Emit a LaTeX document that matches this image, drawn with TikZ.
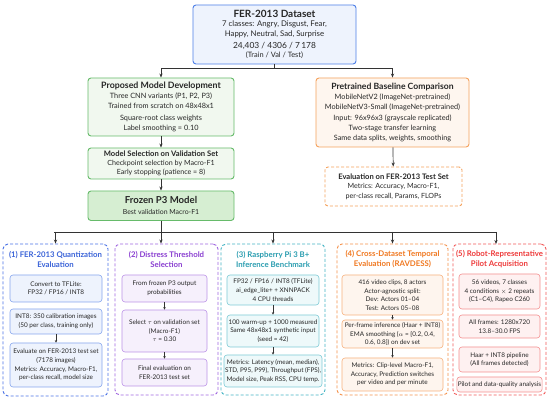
\documentclass[tikz,border=0pt]{standalone}
\usepackage{fontspec}
\setmainfont{Lato}
\usetikzlibrary{arrows.meta}
\definecolor{dsB}{HTML}{4D7FE8}\definecolor{dsF}{HTML}{EEF3FD}
\definecolor{grB}{HTML}{66BB6A}\definecolor{grF}{HTML}{F1F8EF}\definecolor{grD}{HTML}{D6EED2}
\definecolor{orB}{HTML}{F5A25D}\definecolor{orF}{HTML}{FEF6EF}
\definecolor{bluP}{HTML}{4A72E6}\definecolor{bluT}{HTML}{3A63D8}\definecolor{bluI}{HTML}{86A6EE}\definecolor{bluF}{HTML}{EEF3FD}
\definecolor{purP}{HTML}{A066E0}\definecolor{purT}{HTML}{8A3FD1}\definecolor{purI}{HTML}{BC93E8}\definecolor{purF}{HTML}{F6F0FC}
\definecolor{teaP}{HTML}{45B5C5}\definecolor{teaT}{HTML}{2A9DB0}\definecolor{teaI}{HTML}{7ECBD6}\definecolor{teaF}{HTML}{EEF9FA}
\definecolor{oraP}{HTML}{F5914A}\definecolor{oraT}{HTML}{F07820}\definecolor{oraI}{HTML}{F7B27E}\definecolor{oraF}{HTML}{FEF5EE}
\definecolor{redP}{HTML}{F25A5A}\definecolor{redT}{HTML}{EE3B3B}\definecolor{redI}{HTML}{F49090}\definecolor{redF}{HTML}{FEF1F1}
\definecolor{lnc}{HTML}{333333}
\newcommand{\fs}[2]{\fontsize{#1}{#2}\selectfont}
\tikzset{
  x=1pt,y=-1pt,
  bx/.style={rounded corners=3pt, line width=0.9pt, align=center, inner sep=1pt, anchor=center, text=black!85},
  pan/.style={rounded corners=5pt, dashed, dash pattern=on 3pt off 2pt, line width=0.9pt, anchor=center},
  inb/.style={rounded corners=3pt, line width=0.6pt, align=center, inner sep=1pt, anchor=center, font=\fs{6.4}{8.6}, text=black!85},
  ptitle/.style={align=center, font=\bfseries\fs{7.8}{10}, anchor=center},
  arr/.style={-{Stealth[length=4pt,width=3.2pt]}, line width=0.7pt, draw=lnc},
  sarr/.style={-{Stealth[length=2.6pt,width=2.4pt]}, line width=0.5pt, draw=lnc},
  lnk/.style={line width=0.7pt, draw=lnc},
}
\begin{document}
\begin{tikzpicture}
\useasboundingbox (0,0) rectangle (550,403);
\fill[white] (0,0) rectangle (550,403);
% top
\node[bx, draw=dsB, fill=dsF, minimum width=163pt, minimum height=59pt, font=\fs{7.8}{9.4}] (ds) at (274.5,34.5)
 {\textbf{\fs{10}{10}FER-2013 Dataset}\\
  7 classes: Angry, Disgust, Fear,\\ Happy, Neutral, Sad, Surprise\\[2.5pt]
  \fs{8.4}{8.4}24,403 / 4306 / 7\,178\\ \fs{7.4}{8.2}(Train / Val / Test)};
\node[bx, draw=grB, fill=grF, minimum width=146pt, minimum height=58pt, font=\fs{7.3}{10}] (pmd) at (161,107)
 {\textbf{\fs{8.8}{10}Proposed Model Development}\\
  Three CNN variants (P1, P2, P3)\\ Trained from scratch on 48x48x1\\[1.5pt]
   Square-root class weights\\ Label smoothing = 0.10};
\node[bx, draw=grB, fill=grF, minimum width=146pt, minimum height=31pt, font=\fs{7.1}{9}] (msel) at (161,163.5)
 {\textbf{\fs{7.6}{9}Model Selection on Validation Set}\\
  Checkpoint selection by Macro-F1\\ Early stopping (patience = 8)};
\node[bx, draw=grB, fill=grD, minimum width=146pt, minimum height=29.5pt, font=\fs{6.9}{11}] (frz) at (161,205.75)
 {\textbf{\fs{9.6}{11}Frozen P3 Model}\\
  Best validation Macro-F1};
\node[bx, draw=orB, fill=orF, minimum width=153pt, minimum height=69pt, font=\fs{7.3}{10.3}] (pbc) at (392.5,112.5)
 {\textbf{\fs{8.6}{10}Pretrained Baseline Comparison}\\
  MobileNetV2 (ImageNet-pretrained)\\ MobileNetV3-Small (ImageNet-pretrained)\\
   Input: 96x96x3 (grayscale replicated)\\ Two-stage transfer learning\\ Same data splits, weights, smoothing};
\node[bx, draw=orB, fill=white, dashed, dash pattern=on 3pt off 2pt, minimum width=137pt, minimum height=39pt, font=\fs{7.1}{9.4}] (evb) at (393.5,186.5)
 {\textbf{\fs{7.6}{9.4}Evaluation on FER-2013 Test Set}\\
  Metrics: Accuracy, Macro-F1,\\ per-class recall, Params, FLOPs};
% top connectors
\coordinate (j1) at (274.5,68);
\draw[lnk] (ds.south) -- (j1);
\draw[arr] (j1) -| (pmd.north);
\draw[arr] (j1) -| (pbc.north);
\draw[arr] (pmd) -- (msel);
\draw[arr] (msel) -- (frz);
\draw[arr] (pbc) -- (evb);
% panels
\node[pan, draw=bluP, minimum width=105pt, minimum height=152pt] (p1) at (55.5,320) {};
\node[pan, draw=purP, minimum width=103pt, minimum height=151pt] (p2) at (166.5,319.5) {};
\node[pan, draw=teaP, minimum width=104pt, minimum height=151pt] (p3) at (273,319.5) {};
\node[pan, draw=oraP, minimum width=111pt, minimum height=151pt] (p4) at (392.5,319.5) {};
\node[pan, draw=redP, minimum width=93pt, minimum height=151pt] (p5) at (499.5,319.5) {};
\node[ptitle, text=bluT] (t1) at (55.5,259) {(1) FER-2013 Quantization\\Evaluation};
\node[ptitle, text=purT] (t2) at (166.5,259) {(2) Distress Threshold\\Selection};
\node[ptitle, text=teaT] (t3) at (273,259) {(3) Raspberry Pi 3 B+\\Inference Benchmark};
\node[ptitle, text=oraT] (t4) at (392.5,259) {(4) Cross-Dataset Temporal\\Evaluation (RAVDESS)};
\node[ptitle, text=redT] (t5) at (499.5,259) {(5) Robot-Representative\\Pilot Acquisition};
% bottom bus
\coordinate (j2) at (161,232);
\coordinate (bl) at (54,232);
\coordinate (br) at (496,232);
\coordinate (e5) at (496,244);
\draw[lnk] (frz.south) -- (j2);
\draw[lnk] (bl) -- (br);
\draw[arr] (p1.north |- j2) -- (p1.north);
\draw[arr] (j2) -- (frz.south |- p2.north);
\draw[arr] (p3.north |- j2) -- (p3.north);
\draw[arr] (p4.north |- j2) -- (p4.north);
\draw[arr] (br) -- (e5);
% panel 1
\node[inb, draw=bluI, fill=bluF, minimum width=92pt, minimum height=27pt] (a1) at (56,288.5) {Convert to TFLite:\\FP32 / FP16 / INT8};
\node[inb, draw=bluI, fill=bluF, minimum width=92pt, minimum height=25pt] (a2) at (56,321.5) {INT8: 350 calibration images\\(50 per class, training only)};
\node[inb, draw=bluI, fill=bluF, minimum width=92pt, minimum height=44pt] (a3) at (56,365) {Evaluate on FER-2013 test set\\(7178 images)\\Metrics: Accuracy, Macro-F1,\\per-class recall, model size};
\draw[sarr] (a2) -- (a3);
% panel 2
\node[inb, draw=purI, fill=purF, minimum width=85pt, minimum height=27pt] (b1) at (164.5,288.5) {From frozen P3 output\\probabilities};
\node[inb, draw=purI, fill=purF, minimum width=85pt, minimum height=42pt] (b2) at (164.5,331) {Select $\tau$ on validation set\\(Macro-F1)\\$\tau$ = 0.30};
\node[inb, draw=purI, fill=purF, minimum width=85pt, minimum height=27pt] (b3) at (164.5,372.5) {Final evaluation on\\FER-2013 test set};
\draw[sarr] (b1) -- (b2);
\draw[sarr] (b2) -- (b3);
% panel 3
\node[inb, draw=teaI, fill=teaF, minimum width=92pt, minimum height=30pt] (c1) at (273,290) {FP32 / FP16 / INT8 (TFLite)\\ai\_edge\_lite+ + XNNPACK\\4 CPU threads};
\node[inb, draw=teaI, fill=teaF, minimum width=92pt, minimum height=32pt] (c2) at (273,331) {100 warm-up + 1000 measured\\Same 48x48x1 synthetic input\\(seed = 42)};
\node[inb, draw=teaI, fill=teaF, minimum width=92pt, minimum height=32pt] (c3) at (273,371) {Metrics: Latency (mean, median),\\STD, P95, P99), Throughput (FPS),\\Model size, Peak RSS, CPU temp.};
\draw[sarr] (c1) -- (c2);
\draw[sarr] (c2) -- (c3);
% panel 4
\node[inb, draw=oraI, fill=oraF, minimum width=101pt, minimum height=40pt] (d1) at (392.5,295) {416 video clips, 8 actors\\Actor-agnostic split:\\Dev: Actors 01--04\\Test: Actors 05--08};
\node[inb, draw=oraI, fill=oraF, minimum width=101pt, minimum height=28pt] (d2) at (392.5,334) {Per-frame inference (Haar + INT8)\\EMA smoothing ($\alpha$ = \{0.2, 0.4,\\0.6, 0.8\}) on dev set};
\node[inb, draw=oraI, fill=oraF, minimum width=101pt, minimum height=33pt] (d3) at (392.5,374.5) {Metrics: Clip-level Macro-F1,\\Accuracy, Prediction switches\\per video and per minute};
\draw[sarr] (d1) -- (d2);
\draw[sarr] (d2) -- (d3);
% panel 5
\node[inb, draw=redI, fill=redF, minimum width=81pt, minimum height=35pt] (e1) at (499.5,291.5) {56 videos, 7 classes\\4 conditions $\times$ 2 repeats\\(C1--C4), Rapeo C260};
\node[inb, draw=redI, fill=redF, minimum width=81pt, minimum height=23pt] (e2) at (499.5,326.5) {All frames: 1280x720\\13.8--30.0 FPS};
\node[inb, draw=redI, fill=redF, minimum width=81pt, minimum height=25pt] (e3) at (499.5,359.5) {Haar + INT8 pipeline\\(All frames detected)};
\node[inb, draw=redI, fill=redF, minimum width=81pt, minimum height=15pt] (e4) at (499.5,384.5) {Pilot and data-quality analysis};
\end{tikzpicture}
\end{document}
